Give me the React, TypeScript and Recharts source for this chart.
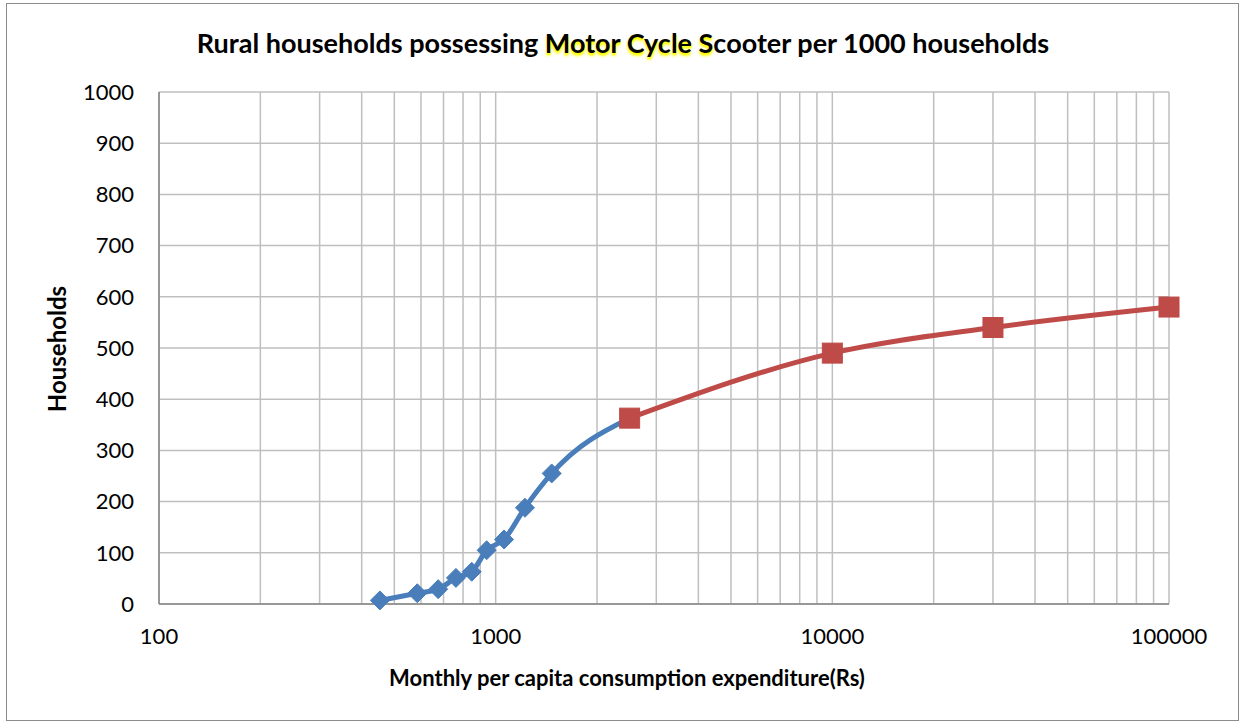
import React from 'react';
import { LineChart, Line, XAxis, YAxis, CartesianGrid } from 'recharts';

const blueX = [453, 585, 675, 762, 849, 940, 1059, 1222, 1467, 2500];
const blueY = [7, 21, 29, 51, 63, 105, 126, 188, 255, 363];
const redX = [2500, 10000, 30000, 100000];
const redY = [363, 490, 540, 580];

const xTicks = [100, 1000, 10000, 100000];
const yTicks = [0, 100, 200, 300, 400, 500, 600, 700, 800, 900, 1000];
const xGridValues = [
  100, 200, 300, 400, 500, 600, 700, 800, 900,
  1000, 2000, 3000, 4000, 5000, 6000, 7000, 8000, 9000,
  10000, 20000, 30000, 40000, 50000, 60000, 70000, 80000, 90000,
  100000,
];

const titleBefore = 'Rural households possessing ';
const titleHighlight = 'Motor Cycle S';
const titleAfter = 'cooter per 1000 households';
const xLabel = 'Monthly per capita consumption expenditure(Rs)';
const yLabel = 'Households';

const blueData = blueX.map((x, i) => ({ x, y: blueY[i] }));
const redData = redX.map((x, i) => ({ x, y: redY[i] }));

const BLUE = '#4A7EBB';
const RED = '#BE4B48';
const FONT = 'Lato, "Open Sans", sans-serif';

const Diamond = (props: any) => {
  const { cx, cy, index } = props;
  if (cx == null || cy == null) return <g key={`d${index}`} />;
  const r = 9.5;
  return (
    <path
      key={`d${index}`}
      d={`M${cx},${cy - r}L${cx + r},${cy}L${cx},${cy + r}L${cx - r},${cy}Z`}
      fill={BLUE}
      stroke={BLUE}
      strokeWidth={1}
    />
  );
};

const Square = (props: any) => {
  const { cx, cy, index } = props;
  if (cx == null || cy == null) return <g key={`s${index}`} />;
  const h = 10;
  return (
    <rect
      key={`s${index}`}
      x={cx - h}
      y={cy - h}
      width={2 * h}
      height={2 * h}
      fill={RED}
      stroke={RED}
      strokeWidth={1}
    />
  );
};

export default function App() {
  return (
    <div
      style={{
        position: 'absolute',
        left: 0,
        top: 0,
        width: 1241,
        height: 723,
        background: '#fff',
        fontFamily: FONT,
        overflow: 'hidden',
      }}
    >
      <div
        style={{
          position: 'absolute',
          left: 6,
          top: 3,
          width: 1233,
          height: 718,
          border: '1.5px solid #8c8c8c',
          boxSizing: 'border-box',
        }}
      />
      <div style={{ position: 'absolute', left: 0, top: 0 }}>
        <LineChart
          width={1241}
          height={723}
          margin={{ top: 92, right: 72, left: 0, bottom: 79 }}
        >
          <CartesianGrid
            stroke="#BFBFBF"
            strokeWidth={1.5}
            verticalValues={xGridValues}
            horizontalValues={yTicks}
          />
          <XAxis
            type="number"
            dataKey="x"
            scale="log"
            domain={[100, 100000]}
            ticks={xTicks}
            height={40}
            tickLine={false}
            tickSize={0}
            tickMargin={24}
            axisLine={{ stroke: '#868686', strokeWidth: 1.5 }}
            tick={{ fill: '#000', fontSize: 22, fontFamily: FONT }}
            interval={0}
          />
          <YAxis
            type="number"
            dataKey="y"
            domain={[0, 1000]}
            ticks={yTicks}
            width={159}
            tickLine={false}
            tickSize={0}
            tickMargin={25}
            axisLine={{ stroke: '#868686', strokeWidth: 1.5 }}
            tick={{ fill: '#000', fontSize: 22, fontFamily: FONT }}
            interval={0}
          />
          <Line
            data={blueData}
            dataKey="y"
            type="monotone"
            stroke={BLUE}
            strokeWidth={5}
            dot={Diamond}
            activeDot={false}
            isAnimationActive={false}
          />
          <Line
            data={redData}
            dataKey="y"
            type="monotone"
            stroke={RED}
            strokeWidth={5}
            dot={Square}
            activeDot={false}
            isAnimationActive={false}
          />
        </LineChart>
      </div>
      <div
        style={{
          position: 'absolute',
          left: 623,
          top: 42,
          transform: 'translate(-50%, -50%)',
          whiteSpace: 'nowrap',
          fontWeight: 700,
          fontSize: 27,
          color: '#000',
          lineHeight: 1,
        }}
      >
        {titleBefore}
        <span style={{ textShadow: '0 2px 2px #ffff00, 0 3px 3px #ffff30' }}>{titleHighlight}</span>
        {titleAfter}
      </div>
      <div
        style={{
          position: 'absolute',
          left: 627,
          top: 678,
          transform: 'translate(-50%, -50%)',
          whiteSpace: 'nowrap',
          fontWeight: 700,
          fontSize: 22,
          color: '#000',
          lineHeight: 1,
        }}
      >
        {xLabel}
      </div>
      <div
        style={{
          position: 'absolute',
          left: 57,
          top: 349,
          transform: 'translate(-50%, -50%) rotate(-90deg)',
          whiteSpace: 'nowrap',
          fontWeight: 700,
          fontSize: 24,
          color: '#000',
          lineHeight: 1,
        }}
      >
        {yLabel}
      </div>
    </div>
  );
}
